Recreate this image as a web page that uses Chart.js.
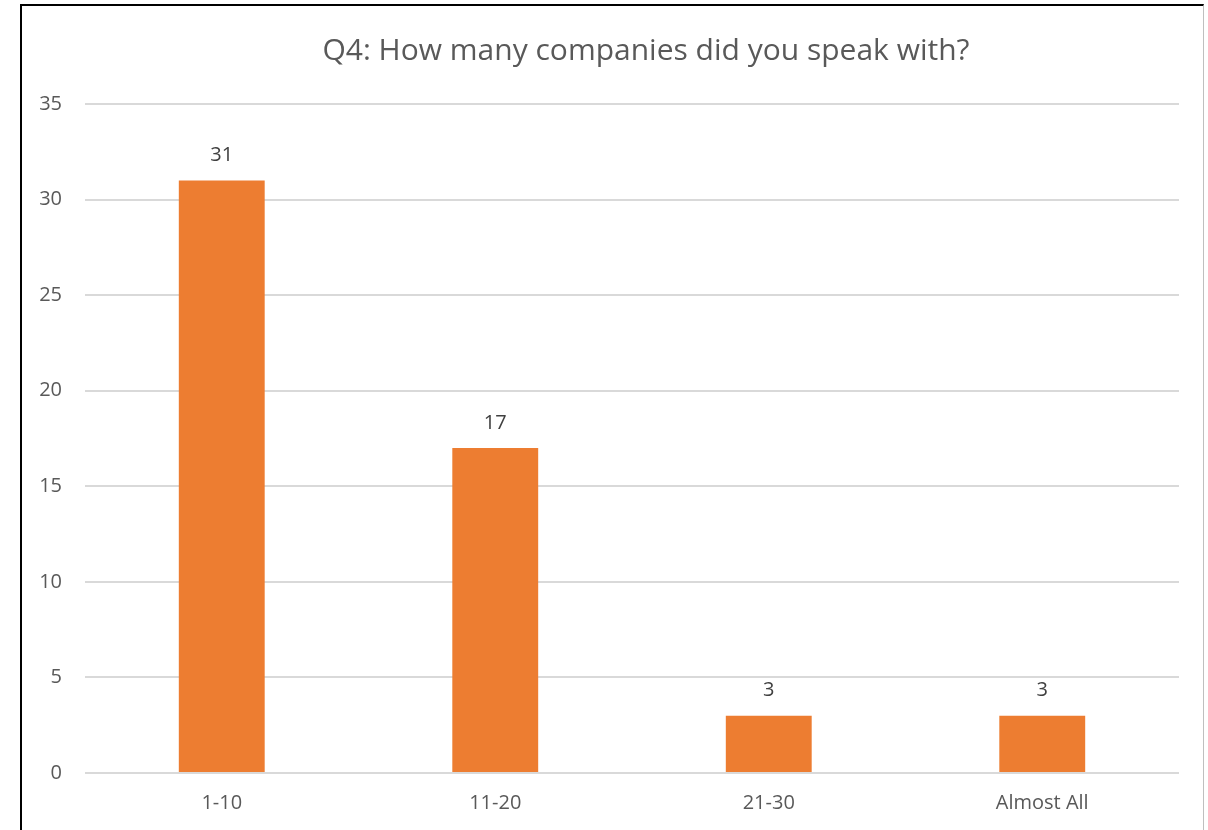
<!DOCTYPE html>
<html>
<head>
<meta charset="utf-8">
<script src="https://cdn.jsdelivr.net/npm/chart.js@4/dist/chart.umd.min.js"></script>
<style>
  html, body { margin: 0; padding: 0; background: #fff; }
  #wrap { position: relative; width: 1208px; height: 830px; }
  #frame { position: absolute; left: 20px; top: 4px; width: 1184px; height: 840px;
           border-left: 2px solid #000; border-top: 2px solid #000; border-right: 1px solid #bfbfbf; box-sizing: border-box; pointer-events: none; }
  canvas { position: absolute; left: 0; top: 0; }
</style>
</head>
<body>
<div id="wrap">
  <canvas id="c" width="1208" height="830"></canvas>
  <div id="frame"></div>
</div>
<script>
const titleText = "Q4: How many companies did you speak with?";
const categories = ["1-10", "11-20", "21-30", "Almost All"];
const values = [31, 17, 3, 3];
const yTicks = [0, 5, 10, 15, 20, 25, 30, 35];

const FONT = "'Open Sans', 'Noto Sans', sans-serif";

const titlePlugin = {
  id: 'titleDraw',
  afterDraw(chart) {
    const ctx = chart.ctx;
    ctx.save();
    ctx.font = "30px " + FONT;
    ctx.fillStyle = "#595959";
    ctx.textAlign = "center";
    ctx.textBaseline = "middle";
    ctx.fillText(titleText, 646, 51);
    ctx.restore();
  }
};

const labelPlugin = {
  id: 'valueLabels',
  afterDatasetsDraw(chart) {
    const ctx = chart.ctx;
    const meta = chart.getDatasetMeta(0);
    ctx.save();
    ctx.font = "20px " + FONT;
    ctx.fillStyle = "#404040";
    ctx.textAlign = "center";
    ctx.textBaseline = "middle";
    meta.data.forEach((bar, i) => {
      ctx.fillText(String(values[i]), bar.x, bar.y - 25);
    });
    ctx.restore();
  }
};

new Chart(document.getElementById('c'), {
  type: 'bar',
  data: {
    labels: categories,
    datasets: [{
      data: values,
      backgroundColor: '#ED7D31',
      borderWidth: 0,
      categoryPercentage: 1.0,
      barPercentage: 0.314
    }]
  },
  options: {
    responsive: false,
    animation: false,
    devicePixelRatio: 1,
    layout: { padding: { left: 0, right: 29, top: 104, bottom: 0 } },
    plugins: { legend: { display: false }, title: { display: false }, tooltip: { enabled: false } },
    scales: {
      x: {
        grid: { display: false, drawTicks: false },
        border: { display: false },
        ticks: { color: '#595959', font: { family: FONT, size: 20 }, padding: 18 },
        afterFit(scale) { scale.height = 57; }
      },
      y: {
        min: 0, max: 35,
        afterBuildTicks(scale) { scale.ticks = yTicks.map(v => ({ value: v })); },
        grid: { color: '#d9d9d9', lineWidth: 2, drawTicks: false },
        border: { display: false },
        ticks: { color: '#595959', font: { family: FONT, size: 20 }, padding: 23 },
        afterFit(scale) { scale.width = 85; }
      }
    }
  },
  plugins: [titlePlugin, labelPlugin]
});
</script>
</body>
</html>
